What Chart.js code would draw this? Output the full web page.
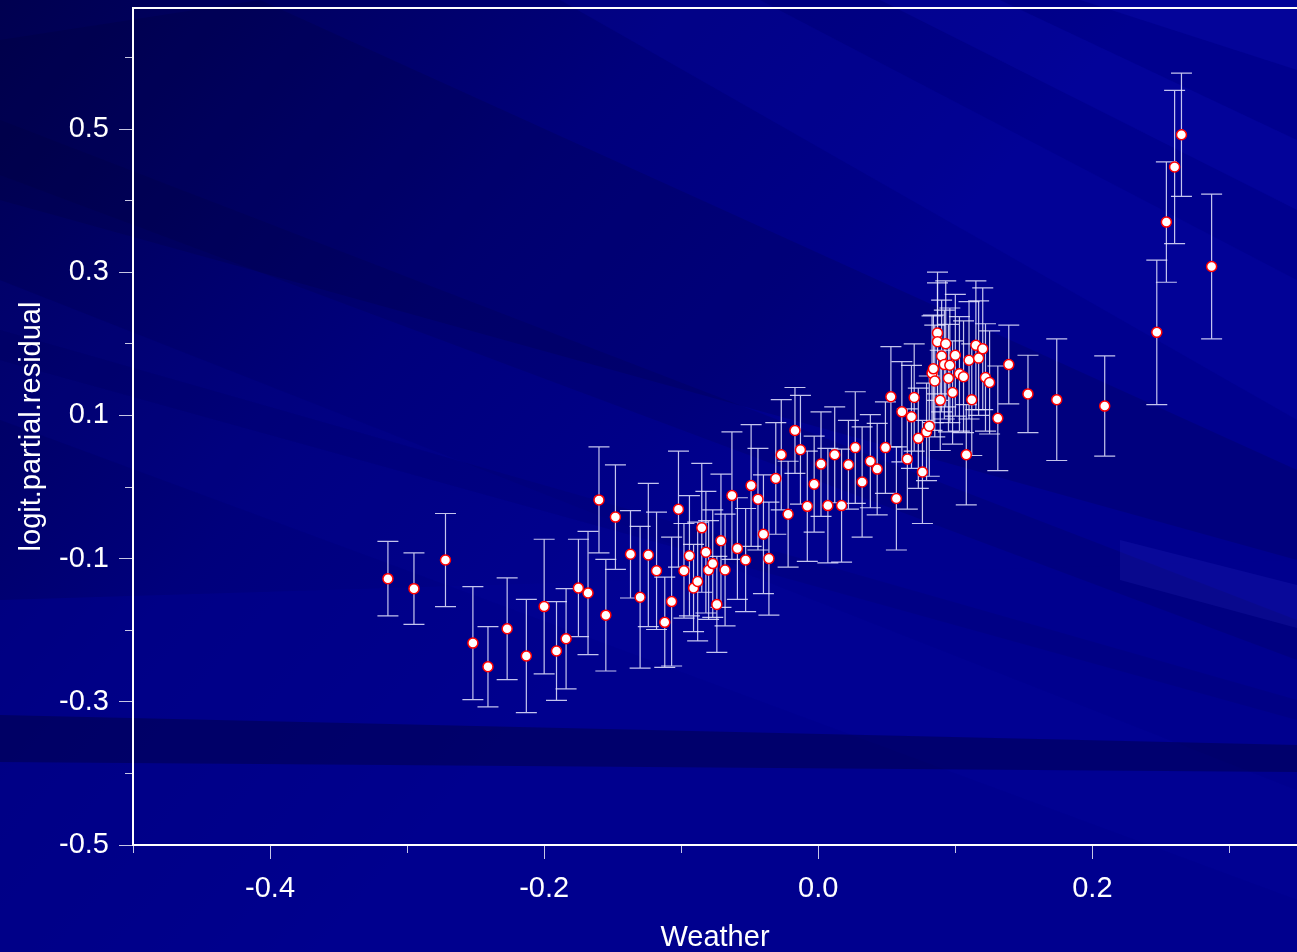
<!DOCTYPE html>
<html>
<head>
<meta charset="utf-8">
<script src="https://cdn.jsdelivr.net/npm/chart.js@4.4.1/dist/chart.umd.min.js"></script>
<style>
  html, body { margin: 0; padding: 0; background: #000080; }
  #wrap { width: 1297px; height: 952px; position: relative; }
</style>
</head>
<body>
<div id="wrap"><canvas id="myChart"></canvas></div>
<script>
// partial residuals (logit scale) against Weather, with +/- 1 s.e. bars
var weather = [
  -0.314,-0.295,-0.272,-0.252,-0.241,-0.227,-0.213,-0.200,-0.191,-0.184,
  -0.175,-0.168,-0.160,-0.155,-0.148,-0.137,-0.130,-0.124,-0.118,-0.112,
  -0.107,-0.102,-0.098,-0.094,-0.091,-0.088,-0.085,-0.082,-0.080,-0.077,
  -0.074,-0.071,-0.068,-0.063,-0.059,-0.053,-0.049,-0.044,-0.040,-0.036,
  -0.031,-0.027,-0.022,-0.017,-0.013,-0.008,-0.003, 0.002, 0.007, 0.012,
   0.017, 0.022, 0.027, 0.032, 0.038, 0.043, 0.049, 0.053, 0.057, 0.061,
   0.065, 0.068, 0.070, 0.073, 0.076, 0.079, 0.081, 0.083, 0.084, 0.085,
   0.087, 0.087, 0.089, 0.090, 0.092, 0.093, 0.095, 0.096, 0.098, 0.100,
   0.103, 0.106, 0.108, 0.110, 0.112, 0.115, 0.117, 0.120, 0.122, 0.125,
   0.131, 0.139, 0.153, 0.174, 0.209, 0.247, 0.254, 0.260, 0.265, 0.287
];
var residual = [
  -0.128,-0.142,-0.102,-0.218,-0.251,-0.198,-0.236,-0.167,-0.229,-0.212,
  -0.141,-0.148,-0.018,-0.179,-0.042,-0.094,-0.154,-0.095,-0.117,-0.189,
  -0.160,-0.031,-0.117,-0.096,-0.141,-0.132,-0.057,-0.091,-0.116,-0.107,
  -0.164,-0.075,-0.116,-0.012,-0.086,-0.102, 0.002,-0.017,-0.066,-0.100,
   0.012, 0.045,-0.038, 0.079, 0.052,-0.027, 0.004, 0.032,-0.026, 0.045,
  -0.026, 0.031, 0.055, 0.007, 0.036, 0.025, 0.055, 0.126,-0.016, 0.105,
   0.039, 0.098, 0.125, 0.068, 0.021, 0.077, 0.085, 0.159, 0.165, 0.148,
   0.215, 0.203, 0.121, 0.183, 0.171, 0.200, 0.152, 0.170, 0.132, 0.184,
   0.158, 0.154, 0.045, 0.177, 0.122, 0.198, 0.180, 0.193, 0.153, 0.146,
   0.096, 0.171, 0.130, 0.122, 0.113, 0.216, 0.370, 0.447, 0.492, 0.308
];
var se = [
  0.052,0.050,0.065,0.079,0.056,0.071,0.079,0.094,0.069,0.070,
  0.068,0.086,0.074,0.078,0.073,0.061,0.099,0.100,0.082,0.063,
  0.090,0.081,0.066,0.084,0.061,0.083,0.090,0.085,0.069,0.075,
  0.067,0.093,0.078,0.089,0.071,0.072,0.085,0.071,0.083,0.079,
  0.078,0.077,0.074,0.060,0.076,0.077,0.067,0.073,0.080,0.067,
  0.079,0.062,0.078,0.077,0.065,0.064,0.064,0.070,0.072,0.070,
  0.070,0.072,0.075,0.070,0.072,0.068,0.070,0.080,0.075,0.078,
  0.085,0.082,0.070,0.078,0.076,0.088,0.075,0.080,0.072,0.085,
  0.080,0.078,0.070,0.082,0.078,0.090,0.080,0.085,0.075,0.072,
  0.073,0.055,0.054,0.085,0.070,0.101,0.084,0.107,0.086,0.101
];

// axis ticks and labels
var xTicks  = [-0.5, -0.4, -0.3, -0.2, -0.1, 0.0, 0.1, 0.2, 0.3];
var xLabels = ['', '-0.4', '', '-0.2', '', '0.0', '', '0.2', ''];
var yTicks  = [-0.5, -0.4, -0.3, -0.2, -0.1, 0.0, 0.1, 0.2, 0.3, 0.4, 0.5, 0.6];
var yLabels = ['-0.5', '', '-0.3', '', '-0.1', '', '0.1', '', '0.3', '', '0.5', ''];
var xRange = [-0.5, 0.3493];
var yRange = [-0.5, 0.669];

var points = [];
for (var i = 0; i < weather.length; i++) {
  points.push({ x: weather[i], y: residual[i], se: se[i] });
}

var FONT = '"Liberation Sans", Arial, Helvetica, sans-serif';

// slide style background: navy gradient with slanted bands
var backdrop = {
  id: 'backdrop',
  beforeDraw: function(chart) {
    var c = chart.ctx, w = chart.width, h = chart.height;
    c.save();
    var g = c.createLinearGradient(0, 0, w * 0.5, h * 0.6);
    g.addColorStop(0, '#000050');
    g.addColorStop(0.3, '#000066');
    g.addColorStop(0.6, '#00007c');
    g.addColorStop(0.9, '#000088');
    g.addColorStop(1, '#00008e');
    c.fillStyle = g;
    c.fillRect(0, 0, w, h);

    function band(pts, col) {
      c.beginPath();
      c.moveTo(pts[0][0], pts[0][1]);
      for (var k = 1; k < pts.length; k++) c.lineTo(pts[k][0], pts[k][1]);
      c.closePath();
      c.fillStyle = col;
      c.fill();
    }
    // bottom part stays an even mid blue
    band([[0, 600], [w, 560], [w, h], [0, h]], 'rgba(0,0,142,0.55)');
    // lighter streaks, upper right
    band([[560, 0], [760, 0], [w, 280], [w, 420]], 'rgba(10,10,190,0.16)');
    band([[880, 0], [1000, 0], [w, 140], [w, 210]], 'rgba(20,20,210,0.16)');
    band([[1080, 0], [w, 0], [w, 70]], 'rgba(30,30,220,0.14)');
    band([[0, 280], [w, 790], [w, 900], [0, 420]], 'rgba(10,10,170,0.14)');
    // darker streaks, upper left
    band([[0, 40], [260, 0], [w, 470], [w, 560], [0, 200]], 'rgba(0,0,40,0.15)');
    band([[0, 120], [w, 620], [w, 660], [0, 175]], 'rgba(0,0,40,0.12)');
    band([[0, 330], [w, 700], [w, 720], [0, 360]], 'rgba(0,0,40,0.08)');
    // light patch at the right
    band([[1120, 540], [w, 585], [w, 628], [1120, 580]], 'rgba(90,90,255,0.10)');
    // dark band near the bottom
    band([[0, 715], [w, 745], [w, 772], [0, 762]], 'rgba(0,0,30,0.30)');
    c.restore();
  }
};

// +/- s.e. bars, drawn through the scales before the points
var errorBars = {
  id: 'errorBars',
  beforeDatasetsDraw: function(chart) {
    var c = chart.ctx, xs = chart.scales.x, ys = chart.scales.y;
    c.save();
    c.strokeStyle = 'rgba(230,230,255,0.85)';
    c.lineWidth = 1.2;
    points.forEach(function(p) {
      var px = xs.getPixelForValue(p.x);
      var top = ys.getPixelForValue(p.y + p.se);
      var bot = ys.getPixelForValue(p.y - p.se);
      c.beginPath();
      c.moveTo(px, top); c.lineTo(px, bot);
      c.moveTo(px - 10.5, top); c.lineTo(px + 10.5, top);
      c.moveTo(px - 10.5, bot); c.lineTo(px + 10.5, bot);
      c.stroke();
    });
    c.restore();
  },
  afterDraw: function(chart) {
    // top edge of the frame
    var a = chart.chartArea, c = chart.ctx;
    c.save();
    c.strokeStyle = '#ffffff';
    c.lineWidth = 2;
    c.beginPath();
    c.moveTo(a.left - 1, a.top);
    c.lineTo(a.right, a.top);
    c.stroke();
    c.restore();
  }
};

function isMajor(labels, idx) { return labels[idx] !== ''; }

var ctx = document.getElementById('myChart');
var myChart = new Chart(ctx, {
  type: 'scatter',
  data: {
    datasets: [{
      label: 'residual',
      data: points,
      pointRadius: 5,
      pointHoverRadius: 5,
      pointBackgroundColor: '#ffffff',
      pointBorderColor: '#ff0000',
      pointBorderWidth: 1.5
    }]
  },
  options: {
    responsive: true,
    maintainAspectRatio: false,
    animation: false,
    layout: { autoPadding: false, padding: { top: 8, right: 0, left: 0, bottom: 0 } },
    plugins: { legend: { display: false }, tooltip: { enabled: false } },
    scales: {
      x: {
        type: 'linear',
        min: xRange[0], max: xRange[1],
        afterBuildTicks: function(s) { s.ticks = xTicks.map(function(v) { return { value: v }; }); },
        afterFit: function(s) { s.height = 107; s.paddingLeft = 0; s.paddingRight = 0; },
        border: { color: '#ffffff', width: 2 },
        grid: {
          drawOnChartArea: false, drawTicks: true, tickLength: 14,
          tickColor: 'rgba(220,220,240,0.9)', tickWidth: 1,
          tickBorderDash: function(c) { return isMajor(xLabels, c.index) ? [] : [7, 100]; }
        },
        ticks: {
          autoSkip: false, maxRotation: 0, padding: 13, color: '#ffffff',
          font: { family: FONT, size: 29 },
          callback: function(v, idx) { return xLabels[idx]; }
        },
        title: {
          display: true, text: 'Weather', color: '#ffffff',
          font: { family: FONT, size: 29 }, padding: { top: 0, bottom: -3 }
        }
      },
      y: {
        type: 'linear',
        min: yRange[0], max: yRange[1],
        afterBuildTicks: function(s) { s.ticks = yTicks.map(function(v) { return { value: v }; }); },
        afterFit: function(s) { s.width = 133; s.paddingTop = 0; s.paddingBottom = 0; },
        border: { color: '#ffffff', width: 2 },
        grid: {
          drawOnChartArea: false, drawTicks: true, tickLength: 14,
          tickColor: 'rgba(220,220,240,0.9)', tickWidth: 1,
          tickBorderDash: function(c) { return isMajor(yLabels, c.index) ? [] : [0, 6, 8, 100]; }
        },
        ticks: {
          autoSkip: false, padding: 10, color: '#ffffff',
          font: { family: FONT, size: 29 },
          callback: function(v, idx) { return yLabels[idx]; }
        },
        title: {
          display: true, text: 'logit.partial.residual', color: '#ffffff',
          font: { family: FONT, size: 29 }, padding: { top: 15, bottom: 0 }
        }
      }
    }
  },
  plugins: [backdrop, errorBars]
});
</script>
</body>
</html>
